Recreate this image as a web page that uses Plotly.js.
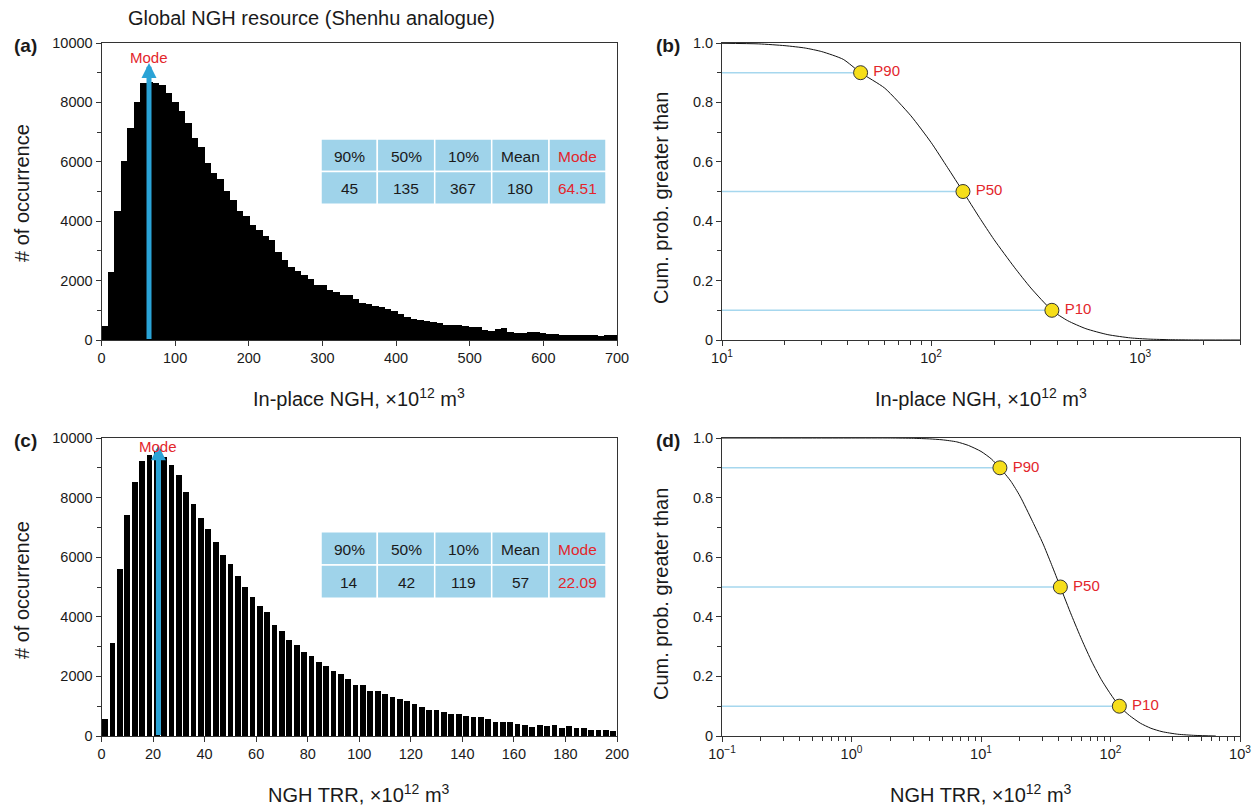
<!DOCTYPE html>
<html>
<head>
<meta charset="utf-8">
<script src="https://cdn.plot.ly/plotly-3.0.1.min.js"></script>
<style>
html,body{margin:0;padding:0;background:#fff;}
#chart{width:1254px;height:808px;}
</style>
</head>
<body>
<div id="chart"></div>
<script>
// ---------------- DATA ----------------
// (a) In-place NGH histogram: 80 bins of 8.75 (x10^12 m3) from 0 to 700
const binWidthA = 8.75;
const countsA = [470, 2290, 4340, 6040, 7140, 8030, 8650, 8700, 8650, 8600,
  8300, 8000, 7700, 7300, 6800, 6500, 5950, 5630, 5430, 5010,
  4700, 4360, 4170, 3860, 3710, 3490, 3360, 2950, 2700, 2470,
  2330, 2200, 2040, 1850, 1850, 1690, 1600, 1510, 1510, 1370,
  1230, 1200, 1160, 1100, 1030, 980, 870, 780, 695, 670,
  640, 615, 560, 515, 515, 500, 470, 450, 450, 330,
  315, 380, 390, 280, 225, 225, 255, 255, 240, 215,
  200, 170, 170, 170, 170, 170, 170, 140, 170, 160];
const modeA = 64.51;

// (c) NGH TRR histogram: 70 bins of 200/70 from 0 to 200
const binWidthC = 200 / 70;
const countsC = [570, 3120, 5600, 7430, 8510, 9240, 9440, 9550, 9350, 9090,
  8770, 8200, 7790, 7320, 6950, 6500, 6080, 5770, 5360, 4990,
  4650, 4350, 4150, 3740, 3510, 3220, 3050, 2810, 2690, 2470,
  2340, 2170, 2070, 1910, 1710, 1710, 1500, 1500, 1410, 1300,
  1240, 1185, 1070, 980, 880, 880, 815, 740, 740, 670,
  625, 625, 570, 480, 480, 480, 400, 370, 310, 370,
  320, 370, 255, 320, 280, 280, 210, 210, 210, 165];
const modeC = 22.09;

// summary tables
const tableHeaders = ['90%', '50%', '10%', 'Mean', 'Mode'];
const tableA = ['45', '135', '367', '180', '64.51'];
const tableC = ['14', '42', '119', '57', '22.09'];

// (b) exceedance curve, In-place NGH
const curveBx = [10, 15, 20, 25, 30, 38, 46, 60, 80, 100, 120, 142, 170, 200, 250, 300, 378, 450, 550, 700, 900, 1100, 1400, 1800, 3000];
const curveBy = [0.999, 0.997, 0.991, 0.983, 0.971, 0.945, 0.9, 0.848, 0.755, 0.665, 0.58, 0.5, 0.413, 0.338, 0.245, 0.175, 0.1, 0.065, 0.038, 0.018, 0.007, 0.003, 0.001, 0.0002, 0];
const pctBx = [46, 142, 378];

// (d) exceedance curve, NGH TRR
const curveDx = [0.1, 0.5, 1, 2, 3, 4, 5, 6.5, 8, 10, 12, 14, 17, 20, 25, 30, 35, 41, 50, 60, 72, 85, 100, 117, 140, 170, 205, 250, 330, 450, 650];
const curveDy = [1, 1, 1, 1, 0.999, 0.997, 0.994, 0.987, 0.975, 0.955, 0.93, 0.9, 0.855, 0.805, 0.72, 0.647, 0.576, 0.5, 0.405, 0.323, 0.248, 0.189, 0.141, 0.1, 0.069, 0.043, 0.026, 0.0146, 0.006, 0.002, 0];
const pctDx = [14, 41, 117];

const pctY = [0.9, 0.5, 0.1];
const pctLabels = ['P90', 'P50', 'P10'];

// ---------------- STYLE / HELPERS ----------------
const W = 1254, H = 808;
const px = v => v / W;
const py = v => 1 - v / H;
const FONT = 'Liberation Sans, Arial, Helvetica, sans-serif';
const RED = '#e3262c';
const ARROW = '#2aa3d6';
const LINEBLUE = '#a6d7ee';
const CELL = '#9fd3ea';
const AX = '#333333';
const TXT = '#1a1a1a';
const TITLE_SIZE = 20;

const centersA = countsA.map((_, i) => (i + 0.5) * binWidthA);
const centersC = countsC.map((_, i) => (i + 0.5) * binWidthC);

function hline(xs, xmin) {
  const x = [], y = [];
  xs.forEach((v, i) => { x.push(xmin, v, null); y.push(pctY[i], pctY[i], null); });
  return {x, y};
}
const hb = hline(pctBx, 10);
const hd = hline(pctDx, 0.1);
const pctText = pctLabels.map(s => '\u2009' + s);

const traces = [
  {type: 'bar', x: centersA, y: countsA, width: binWidthA, marker: {color: '#000', line: {width: 0}}, xaxis: 'x', yaxis: 'y', hoverinfo: 'skip'},
  {type: 'bar', x: centersC, y: countsC, width: binWidthC * 0.78, marker: {color: '#000', line: {width: 0}}, xaxis: 'x3', yaxis: 'y3', hoverinfo: 'skip'},
  {type: 'scatter', mode: 'lines', x: hb.x, y: hb.y, line: {color: LINEBLUE, width: 1.5}, xaxis: 'x2', yaxis: 'y2', hoverinfo: 'skip'},
  {type: 'scatter', mode: 'lines', x: curveBx, y: curveBy, line: {color: '#111', width: 1, shape: 'spline', smoothing: 0.6}, xaxis: 'x2', yaxis: 'y2', hoverinfo: 'skip'},
  {type: 'scatter', mode: 'markers+text', x: pctBx, y: pctY, text: pctText, textposition: 'middle right',
   textfont: {family: FONT, size: 15, color: RED},
   marker: {size: 14, color: '#f6de1a', line: {color: '#333', width: 1}}, xaxis: 'x2', yaxis: 'y2', hoverinfo: 'skip'},
  {type: 'scatter', mode: 'lines', x: hd.x, y: hd.y, line: {color: LINEBLUE, width: 1.5}, xaxis: 'x4', yaxis: 'y4', hoverinfo: 'skip'},
  {type: 'scatter', mode: 'lines', x: curveDx, y: curveDy, line: {color: '#111', width: 1, shape: 'spline', smoothing: 0.6}, xaxis: 'x4', yaxis: 'y4', hoverinfo: 'skip'},
  {type: 'scatter', mode: 'markers+text', x: pctDx, y: pctY, text: pctText, textposition: 'middle right',
   textfont: {family: FONT, size: 15, color: RED},
   marker: {size: 14, color: '#f6de1a', line: {color: '#333', width: 1}}, xaxis: 'x4', yaxis: 'y4', hoverinfo: 'skip'}
];

const tickFont = {family: FONT, size: 14.5, color: TXT};
function baseAxis(extra) {
  return Object.assign({
    showline: true, mirror: true, linecolor: AX, linewidth: 1,
    showgrid: false, zeroline: false, ticks: 'outside', ticklen: 5, tickwidth: 1, tickcolor: AX,
    tickfont: tickFont, fixedrange: true
  }, extra);
}
function logMinor(lo, hi) {
  const v = [];
  for (let e = lo; e < hi; e++) for (let m = 2; m <= 9; m++) v.push(m * Math.pow(10, e));
  return v;
}
const probTicks = {tickmode: 'array', tickvals: [0, 0.2, 0.4, 0.6, 0.8, 1.0], ticktext: ['0', '0.2', '0.4', '0.6', '0.8', '1.0'],
  minor: {tickmode: 'array', tickvals: [0.1, 0.3, 0.5, 0.7, 0.9], ticks: 'outside', ticklen: 4, tickcolor: AX}};

const topDom = [py(340), py(43)];
const botDom = [py(736), py(438)];
const leftDom = [px(101.5), px(617)];
const rightDom = [px(722), px(1240)];

const countAxis = {range: [0, 10000], tickmode: 'linear', tick0: 0, dtick: 2000, tickformat: 'd',
  minor: {tickmode: 'linear', tick0: 0, dtick: 1000, ticks: 'outside', ticklen: 4, tickcolor: AX}};

const layout = {
  width: W, height: H,
  margin: {l: 0, r: 0, t: 0, b: 0},
  paper_bgcolor: '#fff', plot_bgcolor: '#fff',
  showlegend: false, bargap: 0,
  font: {family: FONT, color: TXT},
  xaxis: baseAxis({domain: leftDom, range: [0, 700], anchor: 'y', tickmode: 'linear', tick0: 0, dtick: 100}),
  yaxis: baseAxis(Object.assign({domain: topDom, anchor: 'x'}, countAxis)),
  xaxis2: baseAxis({domain: rightDom, type: 'log', range: [1, Math.log10(3000)], anchor: 'y2', tickmode: 'array',
    tickvals: [10, 100, 1000], ticktext: ['10<sup>1</sup>', '10<sup>2</sup>', '10<sup>3</sup>'],
    minor: {tickmode: 'array', tickvals: logMinor(1, 4), ticks: 'outside', ticklen: 4, tickcolor: AX}}),
  yaxis2: baseAxis(Object.assign({domain: topDom, range: [0, 1], anchor: 'x2'}, probTicks)),
  xaxis3: baseAxis({domain: leftDom, range: [0, 200], anchor: 'y3', tickmode: 'linear', tick0: 0, dtick: 20}),
  yaxis3: baseAxis(Object.assign({domain: botDom, anchor: 'x3'}, countAxis)),
  xaxis4: baseAxis({domain: rightDom, type: 'log', range: [-1, 3], anchor: 'y4', tickmode: 'array',
    tickvals: [0.1, 1, 10, 100, 1000], ticktext: ['10<sup>\u22121</sup>', '10<sup>0</sup>', '10<sup>1</sup>', '10<sup>2</sup>', '10<sup>3</sup>'],
    minor: {tickmode: 'array', tickvals: logMinor(-1, 3), ticks: 'outside', ticklen: 4, tickcolor: AX}}),
  yaxis4: baseAxis(Object.assign({domain: botDom, range: [0, 1], anchor: 'x4'}, probTicks)),
  shapes: [],
  annotations: []
};

function txt(x, y, text, size, opts) {
  return Object.assign({xref: 'paper', yref: 'paper', x: px(x), y: py(y), text: text, showarrow: false,
    xanchor: 'center', yanchor: 'middle', font: {family: FONT, size: size, color: TXT}}, opts || {});
}

// titles
layout.annotations.push(txt(311, 18, 'Global NGH resource (Shenhu analogue)', TITLE_SIZE));
layout.annotations.push(txt(25, 45, '<b>(a)</b>', 19));
layout.annotations.push(txt(668, 45, '<b>(b)</b>', 19));
layout.annotations.push(txt(25, 440, '<b>(c)</b>', 19));
layout.annotations.push(txt(668, 440, '<b>(d)</b>', 19));
layout.annotations.push(txt(359, 397, 'In-place NGH, \u00d710<sup>12</sup> m<sup>3</sup>', TITLE_SIZE));
layout.annotations.push(txt(981, 397, 'In-place NGH, \u00d710<sup>12</sup> m<sup>3</sup>', TITLE_SIZE));
layout.annotations.push(txt(359, 793, 'NGH TRR, \u00d710<sup>12</sup> m<sup>3</sup>', TITLE_SIZE));
layout.annotations.push(txt(981, 793, 'NGH TRR, \u00d710<sup>12</sup> m<sup>3</sup>', TITLE_SIZE));
layout.annotations.push(txt(22, 193, '# of occurrence', TITLE_SIZE, {textangle: -90}));
layout.annotations.push(txt(22, 590, '# of occurrence', TITLE_SIZE, {textangle: -90}));
layout.annotations.push(txt(661, 198, 'Cum. prob. greater than', TITLE_SIZE, {textangle: -90}));
layout.annotations.push(txt(661, 594, 'Cum. prob. greater than', TITLE_SIZE, {textangle: -90}));

// mode arrows
function modeArrow(xa, ya, mode, tip) {
  return {xref: xa, yref: ya, axref: xa, ayref: ya, x: mode, y: tip, ax: mode, ay: 0,
    text: ' ', font: {size: 1}, borderpad: 0, showarrow: true, arrowhead: 2, arrowsize: 0.6, arrowwidth: 5,
    arrowcolor: ARROW, standoff: 0, startstandoff: 0};
}
layout.annotations.push(modeArrow('x', 'y', modeA, 9330));
layout.annotations.push(modeArrow('x3', 'y3', modeC, 9760));
layout.annotations.push({xref: 'x', yref: 'paper', x: modeA, y: py(58), text: 'Mode', showarrow: false,
  xanchor: 'center', yanchor: 'middle', font: {family: FONT, size: 15, color: RED}});
layout.annotations.push({xref: 'x3', yref: 'paper', x: modeC, y: py(446), text: 'Mode', showarrow: false,
  xanchor: 'center', yanchor: 'middle', font: {family: FONT, size: 15, color: RED}});

// tables
const colEdges = [321, 377.3, 434.7, 491.7, 549, 606];
function addTable(rowEdges, values) {
  for (let r = 0; r < 2; r++) {
    for (let c = 0; c < 5; c++) {
      layout.shapes.push({type: 'rect', xref: 'paper', yref: 'paper',
        x0: px(colEdges[c]), x1: px(colEdges[c + 1]), y0: py(rowEdges[r + 1]), y1: py(rowEdges[r]),
        fillcolor: CELL, line: {color: '#ffffff', width: 1.5}, layer: 'above'});
      const label = r === 0 ? tableHeaders[c] : values[c];
      layout.annotations.push(txt((colEdges[c] + colEdges[c + 1]) / 2, (rowEdges[r] + rowEdges[r + 1]) / 2 + 1, label, 15.5,
        {font: {family: FONT, size: 15.5, color: c === 4 ? RED : TXT}}));
    }
  }
}
addTable([139, 171.5, 204.3], tableA);
addTable([531.7, 565, 598.3], tableC);

Plotly.newPlot('chart', traces, layout, {staticPlot: true, displayModeBar: false});
</script>
</body>
</html>
